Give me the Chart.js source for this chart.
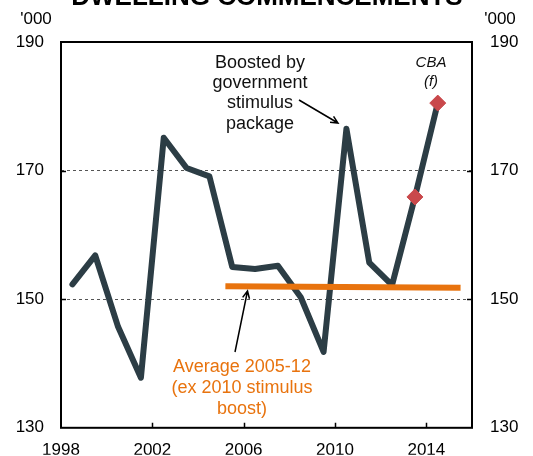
<!DOCTYPE html>
<html>
<head>
<meta charset="utf-8">
<script src="https://cdn.jsdelivr.net/npm/chart.js@4.4.1/dist/chart.umd.min.js"></script>
<style>
  body { margin: 0; background: #fff; }
  canvas { display: block; }
</style>
</head>
<body>
<canvas id="chart" width="533" height="456"></canvas>
<script>
// dwelling commencements, '000, by year (points sit mid-year)
const years = [1998, 1999, 2000, 2001, 2002, 2003, 2004, 2005, 2006, 2007, 2008, 2009, 2010, 2011, 2012, 2013, 2014];
const commencements = [152.3, 156.8, 145.7, 137.8, 175.1, 170.4, 169.1, 155.0, 154.7, 155.2, 150.3, 141.8, 176.5, 155.7, 152.2, 165.9, 180.5];
const forecastYears = [2013, 2014];
const forecastValues = [165.9, 180.5];
// average 2005-12 excluding the 2010 stimulus boost
const avgX = [2005.2, 2015.5];
const avgY = [152.0, 151.8];
const xTicks = [1998, 2002, 2006, 2010, 2014];
const yTicks = [130, 150, 170, 190];

const FONT = "'Liberation Sans', Arial, sans-serif";
const DARK = '#2c3d45';
const ORANGE = '#e8730e';
const RED = '#c9484b';

const lineData = years.map((y, i) => ({x: y + 0.5, y: commencements[i]}));
const fcData = forecastYears.map((y, i) => ({x: y + 0.5, y: forecastValues[i]}));
const avgData = avgX.map((x, i) => ({x: x, y: avgY[i]}));

function arrow(ctx, x1, y1, x2, y2){
  const a = Math.atan2(y2 - y1, x2 - x1);
  const h = 8;
  ctx.beginPath();
  ctx.moveTo(x1, y1); ctx.lineTo(x2, y2);
  ctx.moveTo(x2 - h * Math.cos(a - 0.45), y2 - h * Math.sin(a - 0.45));
  ctx.lineTo(x2, y2);
  ctx.lineTo(x2 - h * Math.cos(a + 0.45), y2 - h * Math.sin(a + 0.45));
  ctx.stroke();
}

const frame = {
  id: 'frame',
  afterDatasetsDraw(chart){
    const {ctx, chartArea: a, scales} = chart;
    ctx.save();
    ctx.strokeStyle = '#000';
    ctx.lineWidth = 2;
    ctx.strokeRect(a.left, a.top, a.right - a.left, a.bottom - a.top);
    // short inward tick marks
    ctx.lineWidth = 1.5;
    ctx.beginPath();
    xTicks.slice(1).forEach(v => {
      const px = Math.round(scales.x.getPixelForValue(v)) + 0.5;
      ctx.moveTo(px, a.bottom); ctx.lineTo(px, a.bottom - 5);
    });
    [150, 170].forEach(v => {
      const py = Math.round(scales.y.getPixelForValue(v)) + 0.5;
      ctx.moveTo(a.left, py); ctx.lineTo(a.left + 5, py);
      ctx.moveTo(a.right, py); ctx.lineTo(a.right - 5, py);
    });
    ctx.stroke();
    ctx.restore();
  },
  afterDraw(chart){
    const {ctx} = chart;
    ctx.save();
    ctx.textAlign = 'center';
    ctx.textBaseline = 'alphabetic';
    ctx.fillStyle = '#000';
    ctx.font = 'bold 26px ' + FONT;
    ctx.fillText('DWELLING COMMENCEMENTS', 267, 5);

    ctx.textBaseline = 'middle';
    ctx.font = '17px ' + FONT;
    ctx.fillText("'000", 36, 19);
    ctx.fillText("'000", 500, 19);

    ctx.fillStyle = '#111';
    ctx.font = '18px ' + FONT;
    ['Boosted by', 'government', 'stimulus', 'package'].forEach((t, i) => {
      ctx.fillText(t, 260, 63 + i * 20.2);
    });

    ctx.font = 'italic 15px ' + FONT;
    ctx.fillText('CBA', 431, 63);
    ctx.fillText('(f)', 431, 82);

    ctx.fillStyle = ORANGE;
    ctx.font = '18px ' + FONT;
    ['Average 2005-12', '(ex 2010 stimulus', 'boost)'].forEach((t, i) => {
      ctx.fillText(t, 242, 367 + i * 20.8);
    });

    ctx.strokeStyle = '#000';
    ctx.lineWidth = 1.5;
    arrow(ctx, 299, 100, 338, 123);
    arrow(ctx, 235, 352, 247.5, 291);
    ctx.restore();
  }
};

new Chart(document.getElementById('chart'), {
  type: 'line',
  data: {
    datasets: [
      {
        data: fcData,
        showLine: false,
        pointStyle: 'rectRot',
        pointRadius: 8,
        pointBackgroundColor: RED,
        pointBorderColor: RED,
        pointBorderWidth: 1,
        order: 0
      },
      {
        data: avgData,
        borderColor: ORANGE,
        borderWidth: 6,
        borderCapStyle: 'butt',
        pointRadius: 0,
        order: 1
      },
      {
        data: lineData,
        borderColor: DARK,
        borderWidth: 6,
        borderJoinStyle: 'round',
        borderCapStyle: 'round',
        pointRadius: 0,
        tension: 0,
        order: 2
      }
    ]
  },
  options: {
    responsive: false,
    animation: false,
    devicePixelRatio: 1,
    layout: {padding: {top: 42, left: 0, right: 0, bottom: 0}},
    plugins: {legend: {display: false}, tooltip: {enabled: false}},
    scales: {
      x: {
        type: 'linear',
        min: 1998,
        max: 2016,
        afterFit: s => { s.height = 27; },
        afterBuildTicks: s => { s.ticks = xTicks.map(v => ({value: v})); },
        grid: {display: false, drawTicks: false},
        border: {display: false},
        ticks: {
          autoSkip: false,
          maxRotation: 0,
          padding: 12,
          color: '#000',
          font: {family: FONT, size: 17},
          callback: v => String(v)
        }
      },
      y: {
        position: 'left',
        min: 130,
        max: 190,
        afterFit: s => { s.width = 61; },
        afterBuildTicks: s => { s.ticks = yTicks.map(v => ({value: v})); },
        grid: {
          drawTicks: false,
          lineWidth: 1,
          color: c => (c.tick && (c.tick.value === 150 || c.tick.value === 170)) ? '#555' : 'rgba(0,0,0,0)'
        },
        border: {display: false, dash: [3, 3]},
        ticks: {padding: 17, color: '#000', font: {family: FONT, size: 17}}
      },
      y2: {
        position: 'right',
        min: 130,
        max: 190,
        afterFit: s => { s.width = 61; },
        afterBuildTicks: s => { s.ticks = yTicks.map(v => ({value: v})); },
        grid: {display: false, drawTicks: false},
        border: {display: false},
        ticks: {padding: 18, color: '#000', font: {family: FONT, size: 17}}
      }
    }
  },
  plugins: [frame]
});
</script>
</body>
</html>
